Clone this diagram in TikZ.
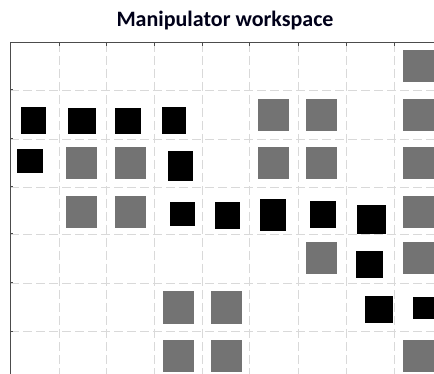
\documentclass[tikz,border=0pt]{standalone}
\usepackage{fontspec}
\setmainfont{Carlito}
\tikzset{
  gridline/.style={gray!30, dash pattern=on 9pt off 4pt, line width=0.8pt},
  axisline/.style={black!70, line width=1pt},
  freecell/.style={rectangle, fill=black!55, minimum width=31pt, minimum height=32pt, inner sep=0pt},
  pathcell/.style={rectangle, fill=black, inner sep=0pt}
}
\begin{document}
\begin{tikzpicture}[x=1pt, y=-1pt]

        \useasboundingbox (0,0) rectangle (434,374);

        %-- Titel --
        \node[font=\bfseries\fontsize{22}{24}\selectfont, text=black!90!blue] (title) at (225,21) {Manipulator workspace};

        %-- Raster (gestrichelt) --
        \foreach \gx in {59,106,154,202,249,298,346,394} {
                \draw[gridline] (\gx,43) -- (\gx,374);
                \draw[axisline] (\gx,43) -- (\gx,46);
            }
        \foreach \gy in {90,139,187,234,283,331} {
                \draw[gridline] (10,\gy) -- (434,\gy);
                \draw[axisline] (10,\gy) -- (13,\gy);
            }

        %-- Achsen links und oben --
        \coordinate (corner) at (10,43);
        \draw[axisline] (10,374) -- (corner) -- (434,43);

        %-- freie Zellen (grau) --
        \foreach \cx/\cy [count=\i] in {418/66.5,
                273.5/115, 321.5/115, 418/115,
                81.5/163, 130/163, 273.5/163, 321.5/163, 418/163,
                81.5/212, 130/212, 418/212,
                321.5/258.5, 418/258.5,
                178/307.5, 226.5/307.5,
                178/355.5, 226.5/355.5, 418/355.5} {
                \node[freecell] (free\i) at (\cx,\cy) {};
            }

        %-- Pfadzellen (schwarz): Mitte / Breite / Hoehe --
        \foreach \cx/\cy/\w/\h [count=\i] in {33.5/120.5/25/27, 82/121/28/26, 128/121/26/26, 174/120.5/24/27,
                30/161/26/24, 180.5/166/25/30,
                182.5/214/25/24, 227.5/215.5/25/27, 273/215/26/32, 323/214.5/26/27, 371.5/219.5/29/29,
                369.5/264.5/27/27,
                379/309.5/28/27, 423.5/308/21/22} {
                \node[pathcell, minimum width=\w pt, minimum height=\h pt] (path\i) at (\cx,\cy) {};
            }

    \end{tikzpicture}
\end{document}
